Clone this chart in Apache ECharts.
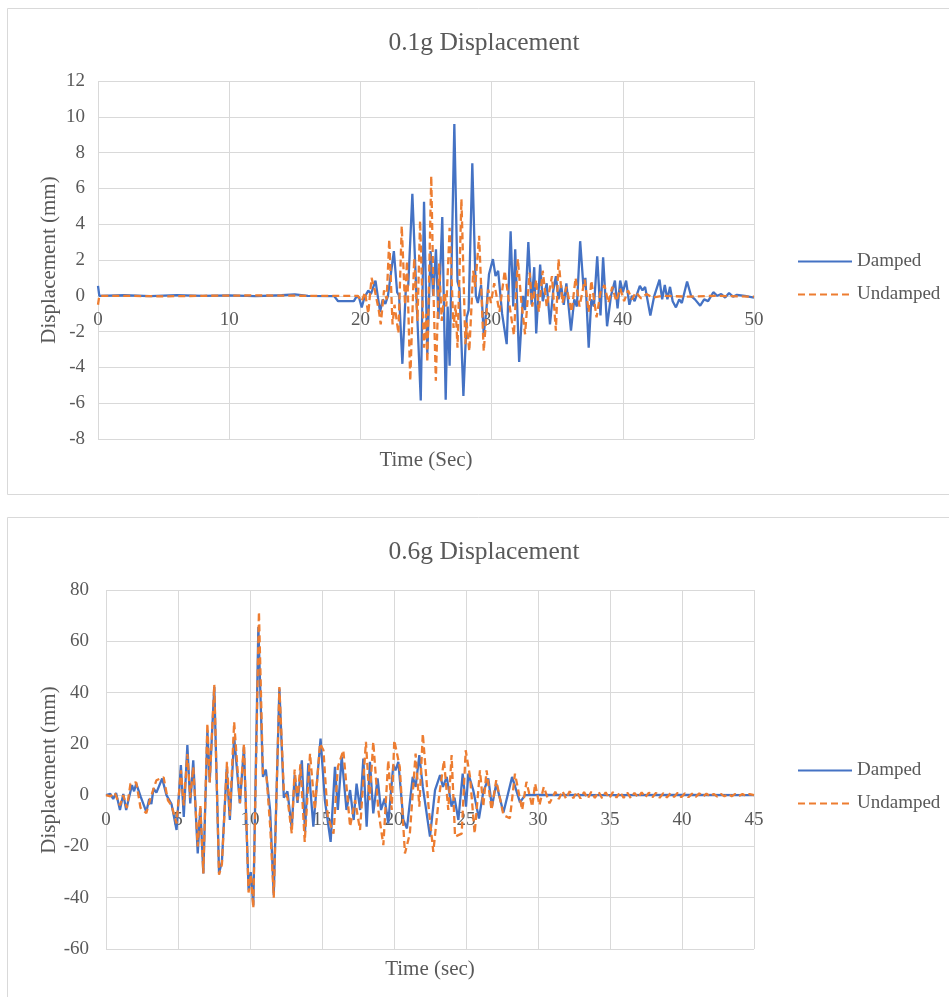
<!DOCTYPE html>
<html>
<head>
<meta charset="utf-8">
<script src="https://cdn.jsdelivr.net/npm/echarts/dist/echarts.min.js"></script>
<style>
html,body{margin:0;padding:0;background:#fff;}
#chart{width:949px;height:997px;}
</style>
</head>
<body>
<div id="chart"></div>
<script>
// ---------- DATA ----------
const seriesNames = ['Damped', 'Undamped'];
const chartTitles = ['0.1g Displacement', '0.6g Displacement'];
const xAxisTitles = ['Time (Sec)', 'Time (sec)'];
const yAxisTitle = 'Displacement (mm)';

// top chart axis ranges
const topX = {min: 0, max: 50, interval: 10};
const topY = {min: -8, max: 12, interval: 2};
// bottom chart axis ranges
const botX = {min: 0, max: 45, interval: 5};
const botY = {min: -60, max: 80, interval: 20};

// 0.1g Damped  [time s, displacement mm]
const topDamped = [
[0,0.55],[0.1,0],[2,0.03],[4,-0.02],[6,0.04],[8,0],[10,0.02],[12,-0.02],[14,0.03],[15,0.08],[16,0],[18,-0.02],
[18.3,-0.3],[19.5,-0.3],[19.7,-0.05],[19.9,-0.1],[20.1,-0.65],[20.3,-0.1],[20.6,0.3],[20.8,0.1],[21.15,0.85],
[21.5,-0.9],[21.7,-0.2],[21.9,-0.45],[22.1,0],[22.55,2.5],[22.8,0.2],[22.95,0],[23.2,-3.8],[23.45,0.2],[23.65,0.6],
[23.96,5.7],[24.3,-0.5],[24.6,-5.85],[24.85,5.25],[25.1,-3.25],[25.35,2.5],[25.55,0],[25.76,2.6],[25.95,-1.3],
[26.24,4.4],[26.5,-5.8],[26.65,-0.6],[26.8,-3.9],[27.16,9.6],[27.4,0.8],[27.55,0.4],[27.85,-5.6],[28.1,-1.2],
[28.25,-0.8],[28.53,7.4],[28.8,0],[28.95,-0.4],[29.2,0.6],[29.4,-2.15],[29.6,-0.8],[29.8,1.2],[30.1,2.05],[30.3,1.1],
[30.5,1.4],[30.8,-1.0],[31.15,-2.7],[31.45,3.6],[31.65,-0.6],[31.8,2.6],[32.1,-3.7],[32.4,0],[32.55,-0.8],[32.8,3.0],
[33.05,-0.5],[33.25,1.6],[33.4,-2.1],[33.7,1.75],[33.9,-0.3],[34.2,0.7],[34.45,-1.6],[34.7,0.3],[34.9,1.1],[35.1,-0.2],
[35.3,0.6],[35.5,-0.5],[35.7,0.7],[36.05,-1.95],[36.3,-0.2],[36.5,-0.6],[36.75,3.05],[37.0,0.5],[37.15,1.0],[37.4,-2.9],
[37.6,-0.2],[37.8,-0.6],[38.05,2.2],[38.3,-1.1],[38.5,2.15],[38.8,-1.7],[39.1,0],[39.4,0.85],[39.6,-0.7],[39.8,0.85],
[40.0,0.2],[40.25,0.85],[40.5,-0.5],[40.7,0],[40.9,-0.3],[41.3,0.55],[41.5,0.3],[41.7,0.5],[42.1,-1.1],[42.4,0],
[42.8,0.9],[43.0,-0.2],[43.2,0.6],[43.4,-0.2],[43.6,0.5],[43.8,-0.3],[44.05,-0.65],[44.3,-0.2],[44.5,-0.4],[44.9,0.8],
[45.2,0],[45.5,-0.2],[45.9,-0.55],[46.2,-0.2],[46.5,-0.3],[46.9,0.2],[47.2,0],[47.5,0.1],[47.8,-0.1],[48.1,0.15],
[48.4,-0.05],[48.7,0.05],[49.3,0],[50,-0.1]
];

// 0.1g Undamped
const topUndamped = [
[0,-0.5],[0.1,0],[2,0],[5,-0.03],[8,0],[12,0.02],[16,0],[19,0],[19.8,0],[20.1,-0.3],[20.35,0.2],[20.6,-1.0],
[20.85,1.0],[21.1,0.3],[21.4,-0.8],[21.55,-1.6],[21.8,0.3],[22.0,-0.2],[22.2,3.15],[22.45,-1.6],[22.6,-0.5],
[22.9,-2.1],[23.15,3.9],[23.4,-0.5],[23.55,1.95],[23.8,-4.75],[24.1,2.1],[24.35,-1.4],[24.55,4.2],[24.75,-0.8],
[24.85,-2.9],[25.0,-1.0],[25.1,-3.7],[25.4,6.7],[25.55,0.8],[25.75,-4.75],[26.0,1.8],[26.2,-1.4],[26.4,0.2],
[26.55,-0.6],[26.8,3.8],[27.1,-1.8],[27.25,-0.5],[27.4,-2.9],[27.7,5.4],[28.0,-2.7],[28.1,-1.5],[28.3,-3.1],
[28.6,1.4],[28.75,0.5],[29.05,3.35],[29.4,-3.1],[29.75,0.35],[29.95,-0.4],[30.2,0.7],[30.6,-0.9],[31.0,1.4],
[31.3,-0.2],[31.7,-2.2],[32.0,2.05],[32.25,-0.2],[32.55,-2.15],[32.9,1.3],[33.1,-0.6],[33.4,0.9],[33.6,-0.9],
[33.9,1.4],[34.2,-0.6],[34.6,1.1],[34.9,-1.95],[35.1,2.05],[35.4,-0.4],[35.7,0.5],[36.1,-0.9],[36.4,1.0],[36.7,-0.6],
[37.1,0.9],[37.4,-0.9],[37.6,0.85],[38.0,-1.2],[38.3,0.2],[38.6,0.6],[38.9,-0.4],[39.2,0.5],[39.5,-0.3],[39.8,0.4],
[40.1,-0.3],[40.4,0.3],[40.7,-0.2],[41.0,0.2],[41.4,-0.15],[41.8,0.1],[42.3,-0.1],[43,0],[45,-0.05],[47,0],[50,-0.05]
];

// 0.6g Damped
const botDamped = [
[0,0],[0.3,0.5],[0.5,-1.5],[0.7,0.8],[0.97,-5.8],[1.2,0.5],[1.4,-5.8],[1.8,3.9],[1.95,1.5],[2.1,4.5],[2.4,-0.5],
[2.8,-6.5],[3.0,-1.5],[3.15,-3.5],[3.3,2.6],[3.5,1],[3.9,6.5],[4.2,0],[4.55,-3.5],[4.9,-13.6],[5.2,11.7],[5.4,-8.5],
[5.65,19.5],[5.85,-3.2],[6.06,13.6],[6.37,-22.7],[6.55,-5],[6.76,-30.5],[7.04,25.3],[7.2,5],[7.52,42.2],[7.85,-30.4],
[8.05,-26],[8.38,10.5],[8.6,-9.7],[8.9,22.7],[9.3,-3.2],[9.58,18.8],[9.9,-37],[10.05,-30],[10.23,-43],[10.58,65.6],
[10.9,7.1],[11.1,10],[11.4,-6],[11.65,-39],[12.04,41.6],[12.35,-1],[12.6,1.5],[12.9,-13],[13.1,7.8],[13.3,-3],
[13.6,13.6],[13.82,-14.3],[14.05,12.4],[14.4,-12.3],[14.9,22.1],[15.2,-2],[15.6,-18.2],[15.9,11],[16.1,-5.8],
[16.37,15],[16.7,-5.8],[16.95,2],[17.2,-9.7],[17.4,4.5],[17.65,-5.8],[17.87,14.3],[18.1,-12.3],[18.33,13],[18.56,-7.1],
[18.86,6.5],[19.1,-5.8],[19.35,-1.3],[19.6,-11],[19.95,11.7],[20.1,9.7],[20.3,13],[20.65,-9.7],[20.9,-13],[21.3,7.1],
[21.5,3.2],[21.76,15.6],[22.0,3.2],[22.5,-16.2],[22.85,2],[23.2,7.8],[23.4,3.2],[23.66,7.1],[24.0,-4.5],[24.2,-1],
[24.47,-9.7],[24.77,8.4],[25.0,-4.5],[25.16,8.4],[25.5,2],[25.9,-9.1],[26.2,1.3],[26.55,6.5],[26.8,-4.5],[27.1,4.5],
[27.6,-6.8],[28.2,7.1],[28.75,-2.8],[29.1,0],[30,0.1],[35,0],[40,0.05],[45,0]
];

// 0.6g Undamped
const botUndamped = [
[0,0],[0.3,-0.5],[0.6,1],[0.97,-4],[1.2,0],[1.45,-5],[1.7,4.5],[2.1,5],[2.4,-5],[2.8,-7],[3.1,-1],[3.5,5.8],[4.0,7],
[4.3,-2],[4.55,-4],[4.9,-11],[5.2,9.7],[5.4,-4],[5.65,16],[5.85,-1],[6.06,11],[6.37,-20],[6.55,-4],[6.76,-30.5],
[7.04,28],[7.2,5],[7.52,43],[7.85,-31],[8.05,-27],[8.4,13],[8.6,-8],[8.9,28.5],[9.3,-3],[9.58,20],[9.9,-38],
[10.05,-31],[10.23,-44],[10.62,71.5],[10.9,8],[11.15,7],[11.4,-12],[11.65,-40],[12.04,42.2],[12.35,2],[12.6,-1],
[12.9,-15],[13.1,10],[13.3,-2],[13.5,12],[13.8,-18.2],[14.17,16.2],[14.5,-5.8],[14.86,20.1],[15.1,17.5],[15.4,-8.4],
[15.8,-15],[16.1,11],[16.48,17.5],[16.95,-12.3],[17.3,-2],[17.64,-13.6],[18.05,20.8],[18.3,-2],[18.56,20.8],
[18.91,-5.8],[19.26,-19.5],[19.6,13.6],[19.84,-5.8],[20.02,21.4],[20.4,11],[20.76,-22.7],[21.1,-15],[21.5,16.2],
[21.76,-4.5],[22.0,24],[22.4,-4.5],[22.73,-22.1],[23.1,-2],[23.47,13.6],[23.77,-5.8],[24.0,15.6],[24.24,-16.2],
[24.7,-15],[24.98,17.5],[25.28,7.1],[25.6,-15],[25.97,9.7],[26.2,-4.5],[26.43,9.7],[26.77,-5.8],[27.1,5.8],
[27.6,-7.8],[28.05,-9],[28.4,8.4],[28.9,-5.8],[29.2,5.2],[29.6,-4.5],[29.8,4.5],[30.1,-3.9],[30.4,3.2],[30.8,-3.2],
[31.2,1.3],[31.45,-1.5],[31.7,1.6],[31.95,-1.4],[32.2,1.5],[32.45,-1.2],[32.7,1.4],[32.95,-1.3],[33.2,1.2],
[33.45,-1.4],[33.7,1.3],[33.95,-1.1],[34.2,1.4],[34.45,-1.2],[34.7,1.1],[34.95,-1.3],[35.2,1.2],[35.45,-1.0],
[35.7,1.3],[35.95,-1.1],[36.2,1.0],[36.45,-1.2],[36.7,0.9],[36.95,-1.0],[37.2,1.1],[37.45,-0.9],[37.7,1.0],
[37.95,-0.8],[38.2,0.9],[38.45,-1.0],[38.7,0.8],[38.95,-0.9],[39.2,0.8],[39.45,-0.7],[39.7,0.9],[39.95,-0.8],
[40.2,0.7],[40.45,-0.8],[40.7,0.6],[40.95,-0.7],[41.2,0.7],[41.45,-0.6],[41.7,0.6],[41.95,-0.6],[42.2,0.5],
[42.45,-0.6],[42.7,0.5],[42.95,-0.5],[43.2,0.5],[43.45,-0.4],[43.7,0.5],[43.95,-0.4],[44.2,0.4],[44.45,-0.4],
[44.7,0.4],[45,0]
];

// ---------- STYLE ----------
const FONT = 'Liberation Serif, Tinos, DejaVu Serif, serif';
const TXT = '#595959';
const GRIDC = '#d9d9d9';
const BLUE = '#4472C4';
const ORANGE = '#ED7D31';

// plot boxes (pixels)
const topGrid = {left: 98, top: 81, width: 656, height: 358};
const botGrid = {left: 106, top: 590, width: 648, height: 359};

// distance from the bottom of a plot to its zero line, from the axis scale
function zeroOffset(g, r) {
  return -(g.height * (0 - r.min) / (r.max - r.min));
}

function xAxisCfg(gi, r, g, yr) {
  return {
    type: 'value', gridIndex: gi, min: r.min, max: r.max, interval: r.interval,
    position: 'bottom', offset: zeroOffset(g, yr),
    axisLine: {show: true, onZero: false, lineStyle: {color: GRIDC, width: 1}},
    axisTick: {show: false},
    axisLabel: {color: TXT, fontFamily: FONT, fontSize: 19, margin: 15},
    splitLine: {show: true, lineStyle: {color: GRIDC, width: 1}}
  };
}
function yAxisCfg(gi, r, margin) {
  return {
    type: 'value', gridIndex: gi, min: r.min, max: r.max, interval: r.interval,
    axisLine: {show: false}, axisTick: {show: false},
    axisLabel: {color: TXT, fontFamily: FONT, fontSize: 19, margin: margin, padding: [4, 0, 0, 0]},
    splitLine: {show: true, lineStyle: {color: GRIDC, width: 1}}
  };
}
function lineSeries(name, data, gi, color, dashed) {
  return {
    name: name, type: 'line', xAxisIndex: gi, yAxisIndex: gi, data: data,
    symbol: 'none', showSymbol: false, animation: false,
    z: dashed ? 3 : 2,
    itemStyle: {color: color},
    lineStyle: {color: color, width: 2.3, type: dashed ? [7, 4] : 'solid'}
  };
}
function txt(x, y, s, size, rot) {
  return {type: 'text', x: x, y: y, rotation: rot || 0, silent: true,
    style: {text: s, fill: TXT, font: size + 'px ' + FONT, textAlign: 'center', textVerticalAlign: 'middle'}};
}
function legendCfg(top) {
  return {
    data: seriesNames, orient: 'vertical', left: 797, top: top, padding: 0,
    itemWidth: 54, itemHeight: 12, itemGap: 14, selectedMode: false,
    itemStyle: {opacity: 0},
    textStyle: {color: TXT, fontFamily: FONT, fontSize: 19}
  };
}

const chart = echarts.init(document.getElementById('chart'), null, {renderer: 'canvas', width: 949, height: 997});
chart.setOption({
  animation: false,
  backgroundColor: '#fff',
  textStyle: {fontFamily: FONT},
  grid: [
    Object.assign({containLabel: false}, topGrid),
    Object.assign({containLabel: false}, botGrid)
  ],
  xAxis: [xAxisCfg(0, topX, topGrid, topY), xAxisCfg(1, botX, botGrid, botY)],
  yAxis: [yAxisCfg(0, topY, 13), yAxisCfg(1, botY, 17)],
  legend: [legendCfg(252), legendCfg(761)],
  series: [
    lineSeries(seriesNames[0], topDamped, 0, BLUE, false),
    lineSeries(seriesNames[1], topUndamped, 0, ORANGE, true),
    lineSeries(seriesNames[0], botDamped, 1, BLUE, false),
    lineSeries(seriesNames[1], botUndamped, 1, ORANGE, true)
  ],
  graphic: [
    {type: 'rect', silent: true, z: -10, shape: {x: 7.5, y: 8.5, width: 945, height: 486}, style: {fill: 'none', stroke: GRIDC, lineWidth: 1}},
    {type: 'rect', silent: true, z: -10, shape: {x: 7.5, y: 517.5, width: 945, height: 490}, style: {fill: 'none', stroke: GRIDC, lineWidth: 1}},
    txt(484, 43, chartTitles[0], 25.5),
    txt(484, 552, chartTitles[1], 25.5),
    txt(426, 460, xAxisTitles[0], 21),
    txt(430, 969, xAxisTitles[1], 21),
    txt(49, 260, yAxisTitle, 21, Math.PI / 2),
    txt(49, 770, yAxisTitle, 21, Math.PI / 2)
  ]
});
</script>
</body>
</html>
